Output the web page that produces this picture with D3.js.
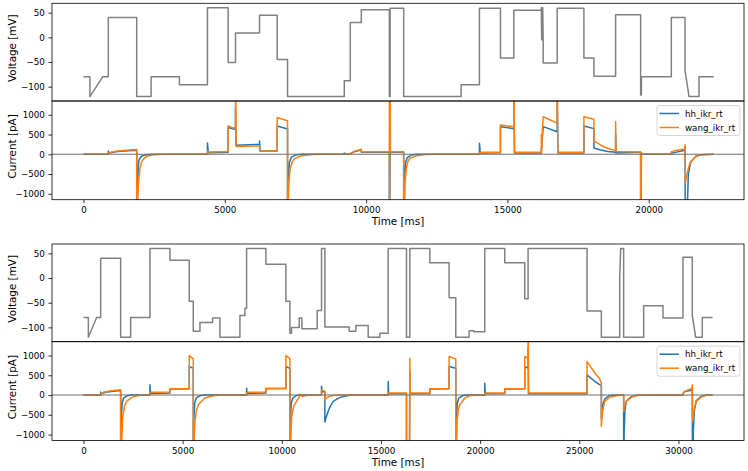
<!DOCTYPE html>
<html><head><meta charset="utf-8">
<script src="https://cdn.jsdelivr.net/npm/d3@7"></script>
<style>body{margin:0;background:#fff} svg{display:block} text{font-family:"DejaVu Sans",sans-serif;fill:#000}</style>
</head><body><svg id="c" width="748" height="471"></svg>
<script>
// ---------- data ----------
const xTicksA = [0, 5000, 10000, 15000, 20000];
const xTicksB = [0, 5000, 10000, 15000, 20000, 25000, 30000];
const vTicks = [-100, -50, 0, 50];
const iTicks = [-1000, -500, 0, 500, 1000];
const seriesNames = ["hh_ikr_rt", "wang_ikr_rt"];

// protocol A voltage [ms, mV]
const voltageA = [[0,-80],[230,-80],[230,-120],[680,-80],[880,-80],[880,40],[1885,40],[1885,-120],[2393,-120],[2393,-80],[3396,-80],[3396,-96],[4388,-96],[4388,60],[5120,60],[5120,-51],[5380,-51],[5380,9],[6230,9],[6230,45],[6855,45],[6855,-45],[7221,-45],[7221,-120],[9229,-120],[9229,-88],[9441,-88],[9441,30],[9831,30],[9831,56],[10823,56],[10823,-120],[10850,-120],[10850,59],[11330,59],[11330,-120],[13361,-120],[13361,-96],[14010,-96],[14010,59],[14754,59],[14754,-42],[15226,-42],[15226,55],[16195,55],[16200,60],[16212,-5],[16224,60],[16236,-5],[16248,60],[16265,-5],[16265,-52],[16761,-52],[16761,59],[17706,59],[17706,-42],[18060,-42],[18060,-79],[18828,-79],[18828,46],[19713,46],[19713,-117],[19740,-117],[19740,-80],[20799,-80],[20799,40],[21283,40],[21283,-67],[21425,-120],[21779,-120],[21779,-80],[22300,-80]];
// protocol A currents [ms, pA]
const hhA = [[0,0],[880,0],[880,85],[900,30],[1200,70],[1885,100],[1885,-3000],[1920,-600],[1960,-150],[2050,-50],[2200,-15],[2400,0],[4388,0],[4388,285],[4420,40],[5120,50],[5120,680],[5380,630],[5380,1200],[5400,230],[6230,250],[6230,340],[6250,85],[6855,85],[6855,717],[7221,640],[7221,-3000],[7250,-600],[7290,-200],[7350,-80],[7500,-20],[7700,0],[9229,0],[9229,30],[9300,10],[9441,15],[9600,70],[9831,110],[9831,50],[10823,50],[10823,-3000],[10850,50],[11330,50],[11330,-3000],[11360,-600],[11400,-200],[11460,-80],[11600,-20],[11800,0],[14010,0],[14010,280],[14040,30],[14754,40],[14754,700],[15226,650],[15226,1500],[15250,30],[16195,30],[16265,700],[16761,573],[16761,1500],[16785,30],[17706,30],[17706,717],[18060,650],[18060,160],[18300,110],[18550,70],[18828,50],[18828,500],[18845,30],[19713,50],[19713,-3000],[19740,20],[20000,0],[20799,0],[20799,60],[20820,30],[21283,100],[21283,200],[21300,-3000],[21400,-500],[21485,-200],[21662,-50],[21840,-10],[22300,0]];
const wangA = [[0,0],[880,0],[880,20],[1000,60],[1200,85],[1500,105],[1885,120],[1885,-3000],[1900,-1500],[1944,-776],[2000,-350],[2062,-185],[2150,-100],[2239,-59],[2416,-17],[2600,-5],[3000,0],[4388,0],[4390,80],[4450,60],[5120,70],[5120,720],[5250,680],[5380,660],[5380,3000],[5400,200],[6230,210],[6230,90],[6855,85],[6855,930],[7221,850],[7221,-3000],[7240,-1500],[7270,-700],[7316,-354],[7400,-170],[7493,-101],[7730,-34],[8084,-8],[8500,0],[9229,0],[9441,20],[9600,80],[9831,126],[9831,67],[10823,67],[10823,3000],[10830,-3000],[10850,3000],[10860,67],[11330,67],[11330,-3000],[11350,-1500],[11380,-700],[11425,-354],[11480,-180],[11543,-101],[11803,-34],[12098,-8],[12500,0],[14010,0],[14010,50],[14754,55],[14754,740],[15226,700],[15226,3000],[15250,50],[16195,60],[16200,500],[16215,100],[16235,600],[16265,950],[16761,790],[16761,3000],[16785,50],[17706,50],[17706,950],[18060,890],[18060,340],[18296,236],[18532,152],[18828,93],[18828,830],[18845,70],[19713,60],[19713,-3000],[19740,30],[19760,20],[20000,0],[20799,0],[20799,40],[20900,90],[21283,135],[21283,240],[21300,-708],[21400,-350],[21485,-185],[21662,-59],[21840,-17],[22000,-5],[22300,0]];

// protocol B voltage [ms, mV]
const voltageB = [[0,-80],[246,-80],[246,-120],[666,-80],[868,-80],[868,40],[1875,40],[1875,-120],[2379,-120],[2379,-80],[3353,-80],[3353,60],[4361,60],[4361,36],[5335,36],[5335,-47],[5537,-47],[5537,-108],[5873,-108],[5873,-90],[6511,-90],[6511,-81],[6881,-81],[6881,-120],[7889,-120],[7889,-76],[8141,-76],[8141,-61],[8225,-61],[8225,60],[9199,60],[9199,28],[10207,28],[10207,-47],[10408,-47],[10408,-112],[10492,-112],[10492,-100],[10879,-100],[10879,-81],[11013,-81],[11013,-103],[11785,-103],[11785,-66],[12004,-66],[12004,60],[12172,60],[12172,-99],[13398,-99],[13398,-108],[13734,-108],[13734,-96],[14355,-96],[14355,-120],[14943,-120],[14943,-112],[15363,-112],[15363,60],[16287,60],[16287,-120],[16455,-120],[16455,60],[17463,60],[17463,31],[18437,31],[18437,-40],[18773,-40],[18773,-120],[19445,-120],[19445,-107],[19680,-107],[19680,-109],[20234,-109],[20234,60],[21242,60],[21242,31],[22250,31],[22250,-42],[22418,-42],[22418,60],[25391,60],[25391,-67],[26113,-67],[26113,-120],[27037,-120],[27037,0],[27088,60],[27238,60],[27238,-120],[28246,-120],[28246,-56],[29220,-56],[29220,-81],[30228,-81],[30228,42],[30698,42],[30698,-75],[30866,-120],[31202,-120],[31202,-80],[31720,-80]];
// protocol B currents [ms, pA]
const hhB = [[0,0],[868,0],[868,75],[890,30],[1200,80],[1875,115],[1875,-3000],[1910,-600],[1950,-200],[2020,-80],[2200,-20],[2400,0],[3353,0],[3353,260],[3380,40],[4361,50],[4361,150],[5335,160],[5335,720],[5537,680],[5537,-3000],[5570,-600],[5610,-200],[5680,-80],[5850,-20],[6100,0],[8225,0],[8225,175],[8250,40],[9199,50],[9199,160],[10207,165],[10207,720],[10408,680],[10408,-3000],[10440,-600],[10480,-200],[10550,-80],[10700,-20],[10879,0],[12004,0],[12004,220],[12030,90],[12172,80],[12172,-680],[12250,-540],[12340,-412],[12450,-280],[12592,-160],[12928,-59],[13432,-8],[14000,0],[15363,0],[15363,345],[15390,30],[16287,30],[16290,-3000],[16440,-1500],[16455,600],[16475,30],[17463,30],[17463,150],[18437,160],[18437,720],[18773,680],[18773,-3000],[18810,-600],[18850,-200],[18920,-80],[19100,-20],[19300,0],[20234,0],[20234,300],[20260,30],[21242,40],[21242,150],[22250,160],[22250,720],[22418,680],[22418,1200],[22440,30],[25391,30],[25391,510],[25550,440],[25700,380],[25850,320],[26000,270],[26113,240],[26113,-600],[26180,-250],[26281,-100],[26500,-20],[26869,0],[27238,0],[27238,-3000],[27260,-1000],[27300,-400],[27373,-150],[27625,-40],[27900,-5],[30228,0],[30228,30],[30300,80],[30698,130],[30698,200],[30710,-3000],[30750,-900],[30800,-400],[30900,-140],[31152,-35],[31404,0],[31720,0]];
const wangB = [[0,0],[868,0],[868,30],[1000,70],[1300,100],[1875,135],[1875,-3000],[1900,-1500],[1976,-580],[2070,-280],[2178,-160],[2430,-59],[2850,-8],[3353,0],[3353,40],[3400,70],[4361,75],[4361,160],[5335,160],[5335,1000],[5537,915],[5537,-3000],[5560,-1500],[5621,-664],[5700,-380],[5789,-244],[6125,-76],[6545,-17],[7000,0],[8225,0],[8225,40],[8260,70],[9199,75],[9199,170],[10207,175],[10207,1000],[10408,930],[10408,-3000],[10430,-1500],[10492,-580],[10600,-280],[10744,-160],[10879,-50],[10900,20],[11013,10],[11013,-40],[11200,-10],[11785,0],[12004,0],[12004,130],[12172,100],[12172,-120],[12250,-80],[12400,-30],[12700,-5],[13000,0],[15363,0],[15363,50],[16287,50],[16295,-3000],[16440,-1500],[16455,930],[16475,50],[17463,50],[17463,160],[18437,165],[18437,975],[18773,915],[18773,-3000],[18800,-1500],[18840,-664],[18900,-380],[18974,-244],[19226,-76],[19478,-17],[19800,0],[20234,0],[20234,40],[20260,50],[21242,55],[21242,160],[22250,165],[22250,975],[22418,930],[22418,3000],[22440,50],[25391,50],[25391,850],[25550,730],[25700,620],[25850,520],[26000,430],[26113,310],[26113,-790],[26180,-400],[26281,-160],[26533,-59],[26869,-17],[27037,-5],[27238,0],[27238,-410],[27290,-260],[27373,-160],[27625,-59],[27900,-15],[28246,0],[30228,0],[30228,40],[30300,90],[30698,175],[30698,260],[30710,-680],[30800,-330],[30900,-160],[31152,-50],[31404,-8],[31720,0]];

// ---------- drawing ----------
const svg = d3.select("#c");
const AX_L = 52, AX_R = 744;
const vDomain = [-129, 69], iDomain = [-1150, 1350];
const blue = "#1f77b4", orange = "#ff7f0e";
const tickFs = 8.7, labFs = 10.4;

const panels = [
  {v: voltageA, hh: hhA, wang: wangA, xd: [-1112, 23370], xt: xTicksA, vy: [3.3, 101], iy: [101, 199.7], labY: 224.5},
  {v: voltageB, hh: hhB, wang: wangB, xd: [-1586, 33305], xt: xTicksB, vy: [244, 341.7], iy: [341.7, 440.5], labY: 466}
];

panels.forEach((p, k) => {
  const x = d3.scaleLinear().domain(p.xd).range([AX_L, AX_R]);
  const yV = d3.scaleLinear().domain(vDomain).range([p.vy[1], p.vy[0]]);
  const yI = d3.scaleLinear().domain(iDomain).range([p.iy[1], p.iy[0]]);
  const defs = svg.append("defs");
  defs.append("clipPath").attr("id", "cv" + k).append("rect")
    .attr("x", AX_L).attr("y", p.vy[0]).attr("width", AX_R - AX_L).attr("height", p.vy[1] - p.vy[0]);
  defs.append("clipPath").attr("id", "ci" + k).append("rect")
    .attr("x", AX_L).attr("y", p.iy[0]).attr("width", AX_R - AX_L).attr("height", p.iy[1] - p.iy[0]);

  // voltage
  const lineV = d3.line().x(d => x(d[0])).y(d => yV(d[1]));
  svg.append("path").attr("clip-path", `url(#cv${k})`).attr("d", lineV(p.v))
    .attr("fill", "none").attr("stroke", "#808080").attr("stroke-width", 1.5).attr("stroke-linejoin", "round");

  // currents
  const lineI = d3.line().x(d => x(d[0])).y(d => yI(d[1]));
  const gI = svg.append("g").attr("clip-path", `url(#ci${k})`);
  gI.append("path").attr("d", lineI(p.hh)).attr("fill", "none").attr("stroke", blue).attr("stroke-width", 1.5).attr("stroke-linejoin", "round");
  gI.append("path").attr("d", lineI(p.wang)).attr("fill", "none").attr("stroke", orange).attr("stroke-width", 1.5).attr("stroke-linejoin", "round");
  gI.append("line").attr("x1", AX_L).attr("x2", AX_R).attr("y1", yI(0)).attr("y2", yI(0))
    .attr("stroke", "#6e6e6e").attr("stroke-width", 1.1);

  // spines
  [[p.vy[0], p.vy[1]], [p.iy[0], p.iy[1]]].forEach(r => {
    svg.append("rect").attr("x", AX_L).attr("y", r[0]).attr("width", AX_R - AX_L).attr("height", r[1] - r[0])
      .attr("fill", "none").attr("stroke", "#000").attr("stroke-width", 0.8);
  });

  // axes
  const styleAxis = g => {
    g.select(".domain").remove();
    g.selectAll("line").attr("stroke", "#000").attr("stroke-width", 0.8);
    g.selectAll("text").attr("font-family", "DejaVu Sans").attr("font-size", tickFs).attr("fill", "#000");
  };
  svg.append("g").attr("transform", `translate(${AX_L},0)`)
    .call(d3.axisLeft(yV).tickValues(vTicks).tickSize(3.6).tickPadding(3.6).tickFormat(d3.format("d"))).call(styleAxis);
  svg.append("g").attr("transform", `translate(${AX_L},0)`)
    .call(d3.axisLeft(yI).tickValues(iTicks).tickSize(3.6).tickPadding(3.6).tickFormat(d3.format("d"))).call(styleAxis);
  svg.append("g").attr("transform", `translate(0,${p.iy[1]})`)
    .call(d3.axisBottom(x).tickValues(p.xt).tickSize(3.6).tickPadding(3.6).tickFormat(d3.format("d"))).call(styleAxis);

  // labels
  const vc = (p.vy[0] + p.vy[1]) / 2 - 4, ic = (p.iy[0] + p.iy[1]) / 2 - 4;
  svg.append("text").attr("transform", `translate(16,${vc}) rotate(-90)`).attr("text-anchor", "middle")
    .attr("font-size", labFs).text("Voltage [mV]");
  svg.append("text").attr("transform", `translate(16,${ic}) rotate(-90)`).attr("text-anchor", "middle")
    .attr("font-size", labFs).text("Current [pA]");
  svg.append("text").attr("x", (AX_L + AX_R) / 2).attr("y", p.labY).attr("text-anchor", "middle")
    .attr("font-size", labFs).text("Time [ms]");

  // legend
  const lg = svg.append("g").attr("transform", `translate(657,${p.iy[0] + 4.5})`);
  lg.append("rect").attr("width", 83).attr("height", 30).attr("rx", 2.5)
    .attr("fill", "#fff").attr("fill-opacity", 0.8).attr("stroke", "#cccccc").attr("stroke-width", 0.8);
  [blue, orange].forEach((c, j) => {
    const yy = 8 + j * 14;
    lg.append("line").attr("x1", 2.5).attr("x2", 22).attr("y1", yy).attr("y2", yy).attr("stroke", c).attr("stroke-width", 1.5);
    lg.append("text").attr("x", 28).attr("y", yy + 3.1).attr("font-size", tickFs).text(seriesNames[j]);
  });
});
</script></body></html>
